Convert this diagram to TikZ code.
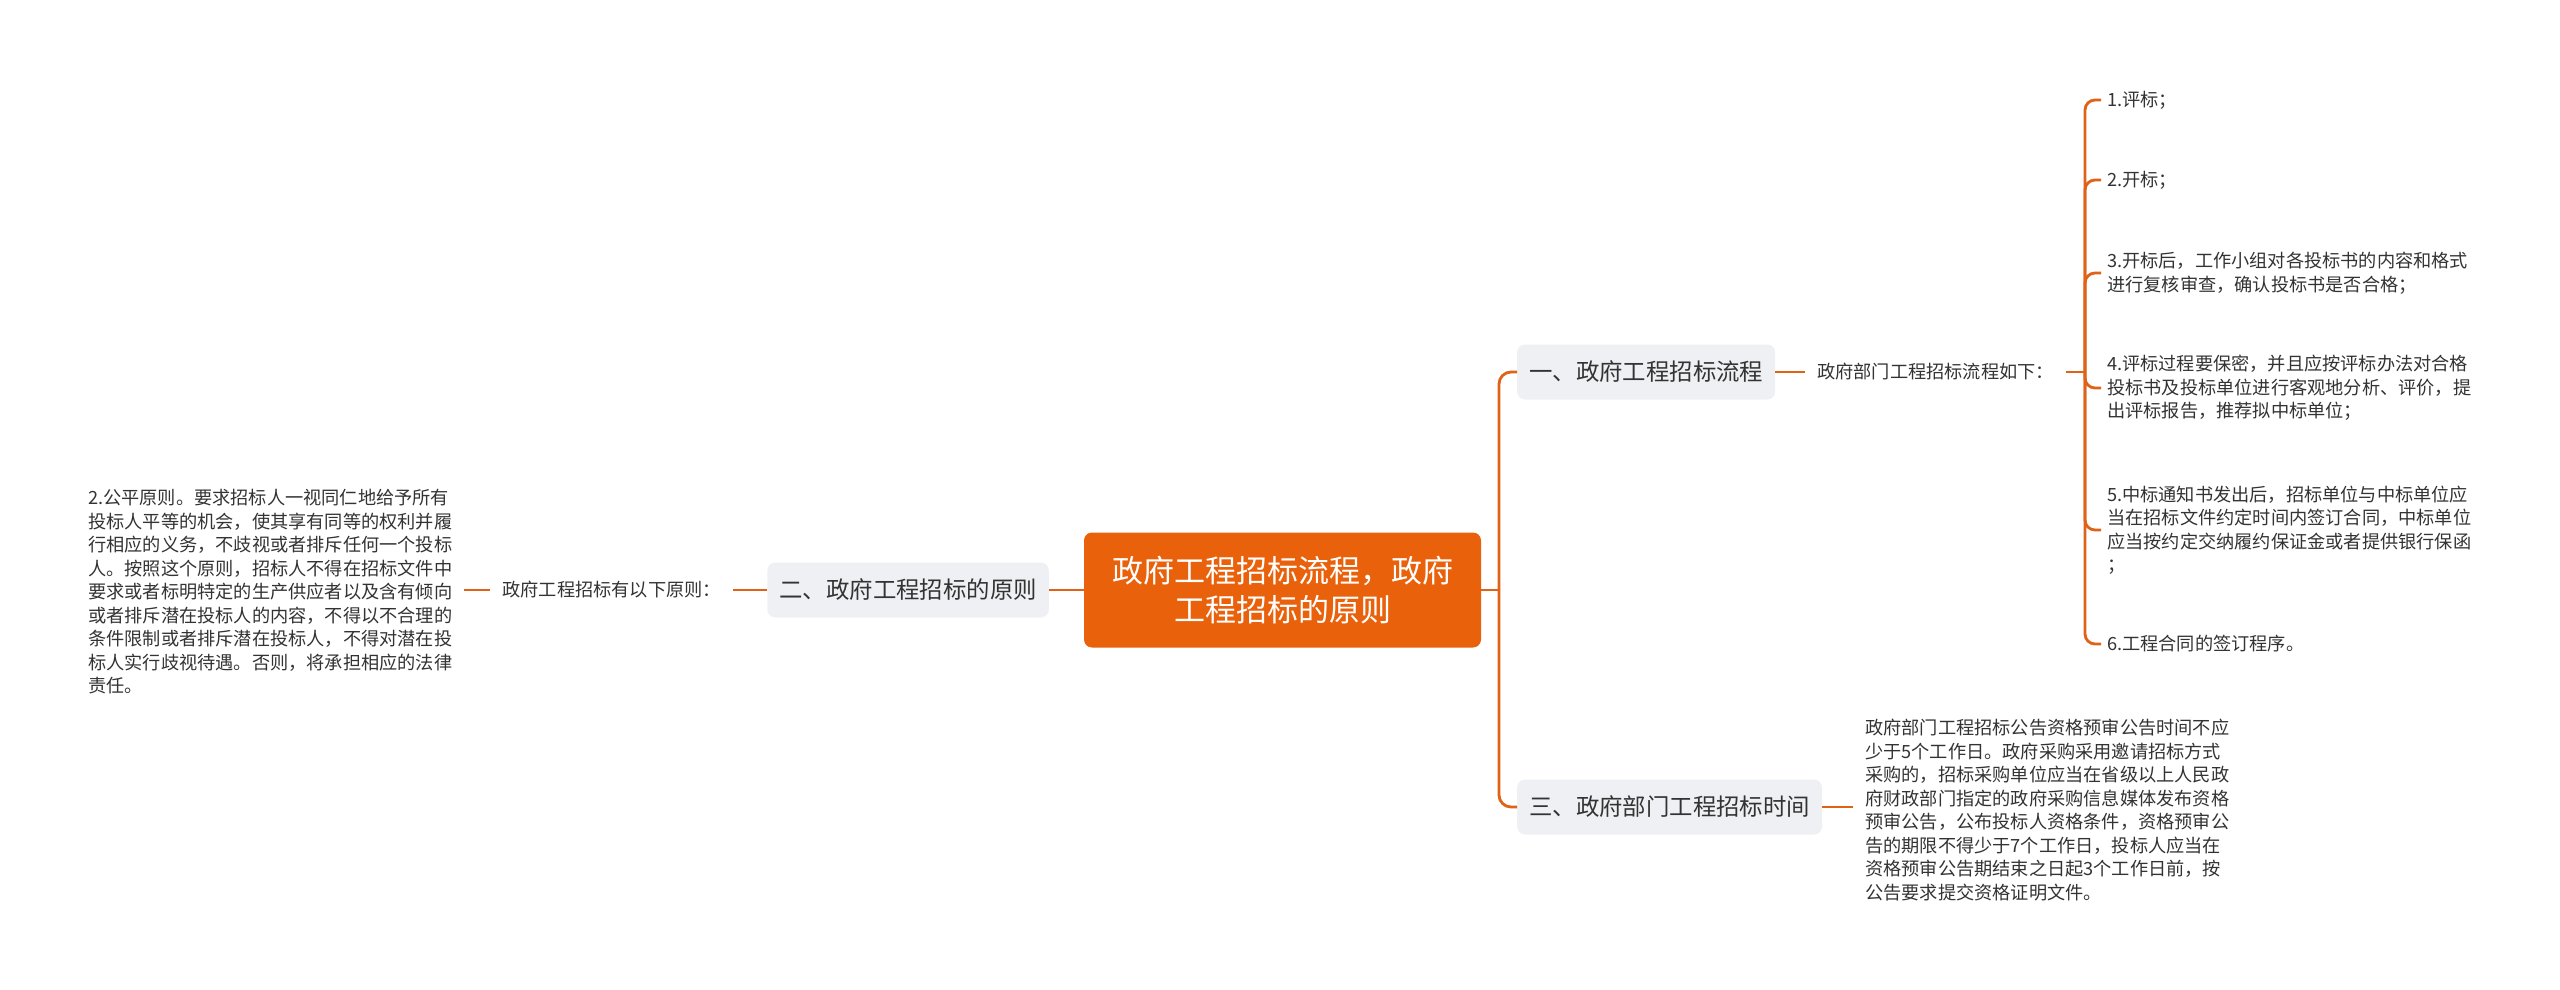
\documentclass[tikz,border=0pt]{standalone}
\usepackage{fontspec}
\setmainfont{Noto Sans CJK SC}
\usetikzlibrary{calc}
\definecolor{mainc}{HTML}{E9610B}
\definecolor{linec}{HTML}{DF6216}
\definecolor{boxc}{HTML}{EEF0F3}
\definecolor{txt}{HTML}{333333}
\begin{document}
\begin{tikzpicture}[x=1pt,y=-1pt,
  mainnode/.style={fill=mainc, rounded corners=8, text=white, font=\fontsize{31}{39}\selectfont, align=center, minimum width=397, minimum height=115, inner sep=0},
  subnode/.style={fill=boxc, rounded corners=8, text=txt, font=\fontsize{23.4}{28}\selectfont, inner xsep=12, inner ysep=0, minimum height=55},
  lblnode/.style={text=txt, font=\fontsize{18.2}{23.5}\selectfont, inner xsep=12, inner ysep=2},
  leafnode/.style={lblnode, align=left},
  itemnode/.style={leafnode, inner xsep=6},
  conn/.style={draw=linec, line width=2.8}]
\useasboundingbox (0,0) rectangle (2560,990);
\fill[white] (0,0) rectangle (2560,990);

% nodes
\node[mainnode] (c) at (1282.5,590) {政府工程招标流程，政府\\工程招标的原则};
\node[subnode, anchor=west] (b1) at (1517,372) {一、政府工程招标流程};
\node[subnode, anchor=west] (b3) at (1517,807) {三、政府部门工程招标时间};
\node[subnode, anchor=east] (b2) at (1049,590) {二、政府工程招标的原则};
\node[lblnode, anchor=east] (l2) at (733,590) {政府工程招标有以下原则：};
\node[leafnode, anchor=west] (f2) at (76,592) {2.公平原则。要求招标人一视同仁地给予所有\\投标人平等的机会，使其享有同等的权利并履\\行相应的义务，不歧视或者排斥任何一个投标\\人。按照这个原则，招标人不得在招标文件中\\要求或者标明特定的生产供应者以及含有倾向\\或者排斥潜在投标人的内容，不得以不合理的\\条件限制或者排斥潜在投标人，不得对潜在投\\标人实行歧视待遇。否则，将承担相应的法律\\责任。};
\node[lblnode, anchor=west] (l1) at (1805,372) {政府部门工程招标流程如下：};
\node[itemnode, anchor=west] (i1) at (2101,100) {1.评标；};
\node[itemnode, anchor=west] (i2) at (2101,180) {2.开标；};
\node[itemnode, anchor=west] (i3) at (2101,273) {3.开标后，工作小组对各投标书的内容和格式\\进行复核审查，确认投标书是否合格；};
\node[itemnode, anchor=west] (i4) at (2101,388) {4.评标过程要保密，并且应按评标办法对合格\\投标书及投标单位进行客观地分析、评价，提\\出评标报告，推荐拟中标单位；};
\node[itemnode, anchor=west] (i5) at (2101,530) {5.中标通知书发出后，招标单位与中标单位应\\当在招标文件约定时间内签订合同，中标单位\\应当按约定交纳履约保证金或者提供银行保函\\；};
\node[itemnode, anchor=west] (i6) at (2101,644) {6.工程合同的签订程序。};
\node[leafnode, anchor=west] (f3) at (1853,810) {政府部门工程招标公告资格预审公告时间不应\\少于5个工作日。政府采购采用邀请招标方式\\采购的，招标采购单位应当在省级以上人民政\\府财政部门指定的政府采购信息媒体发布资格\\预审公告，公布投标人资格条件，资格预审公\\告的期限不得少于7个工作日，投标人应当在\\资格预审公告期结束之日起3个工作日前，按\\公告要求提交资格证明文件。};

\coordinate (t) at (1499,590);
\coordinate (j) at (2085,372);

% connectors
\draw[conn] (c.east) -- (t);
\draw[conn, rounded corners=12] (t) |- (b1.west);
\draw[conn, rounded corners=12] (t) |- (b3.west);
\draw[conn] (c.west) -- (b2.east);
\draw[conn] (b2.west) -- (l2.east);
\draw[conn] (l2.west) -- (l2.west -| f2.east);
\draw[conn] (b1.east) -- (l1.west);
\draw[conn] (l1.east) -- (j);
\foreach \i in {i1,i2,i3,i4,i5,i6}{
  \draw[conn, rounded corners=10] (j) |- (\i.west);
}
\draw[conn] (b3.east) -- (b3.east -| f3.west);
\end{tikzpicture}
\end{document}
